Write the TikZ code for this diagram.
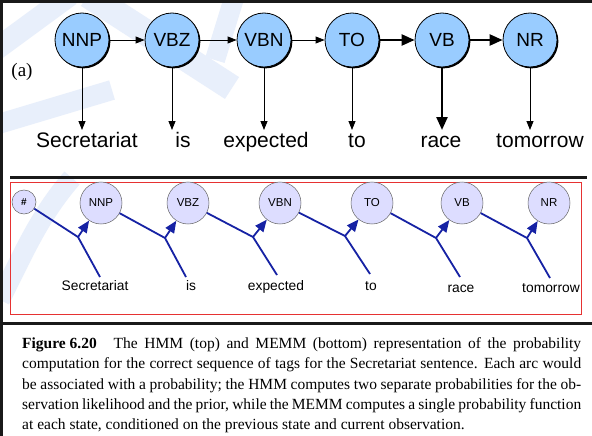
\documentclass[tikz,border=0pt]{standalone}
\usepackage{fontspec}
\setmainfont{Liberation Serif}
\setsansfont{Liberation Sans}
\usetikzlibrary{arrows.meta,shadows}
\definecolor{hmmfill}{RGB}{153,204,255}
\definecolor{memmfill}{RGB}{221,221,255}
\definecolor{memmline}{RGB}{22,34,164}
\definecolor{framered}{RGB}{230,50,50}
\definecolor{wmark}{RGB}{232,239,251}
\tikzset{
  hmmstate/.style={circle, draw=black, line width=0.8pt, fill=hmmfill, minimum size=54pt, inner sep=0pt,
    font=\sffamily\fontsize{19}{19}\selectfont,
    drop shadow={shadow xshift=1.4pt, shadow yshift=-1.4pt, opacity=1, fill=black}},
  hmmword/.style={font=\sffamily\fontsize{21}{21}\selectfont, inner sep=0pt, anchor=base},
  thinarrow/.style={line width=0.8pt, -{Triangle[length=9pt,width=7pt]}},
  thickarrow/.style={line width=2.4pt, -{Triangle[length=13pt,width=11pt]}},
  memmstate/.style={circle, draw=black!60, line width=0.5pt, fill=memmfill, minimum size=42pt, inner sep=0pt,
    font=\sffamily\fontsize{11.5}{11.5}\selectfont},
  memmword/.style={font=\sffamily\fontsize{13.8}{13.8}\selectfont, inner sep=0pt, anchor=base},
  memmedge/.style={draw=memmline, line width=1.8pt},
  memmarrow/.style={memmedge, -{Triangle[length=12pt,width=10pt]}},
  capline/.style={anchor=base west, inner sep=0pt, font=\fontsize{15.5}{15.5}\selectfont},
  wm/.style={draw=wmark, line width=22pt},
}
\begin{document}
\begin{tikzpicture}[x=1pt,y=-1pt]
\useasboundingbox (0,0) rectangle (592,436);
\fill[white] (0,0) rectangle (592,436);
% faint watermark
\begin{scope}
\clip (0,0) rectangle (592,322);
\draw[wm] (70,-5) -- (-5,50);
\draw[wm, line width=26pt] (88,-5) -- (232,88);
\draw[wm, line width=20pt] (235,-5) -- (215,60);
\draw[wm, line width=20pt] (-5,125) -- (112,90);
\draw[wm, line width=20pt] (72,178) .. controls (40,215) and (25,250) .. (0,300);
\end{scope}
% frame
\fill[black!90] (0,0) rectangle (592,3);
\fill[black!90] (0,0) rectangle (3,436);
\fill[black!90] (10,176) rectangle (587,178.5);
\fill[black!90] (0,322) rectangle (592,325);
\draw[framered, line width=0.8pt] (10.5,182.5) rectangle (581,314);
% HMM
\node (a) [font=\fontsize{19}{19}\selectfont] at (22,72) {(a)};
\node[hmmstate] (h1) at (82,40) {NNP};
\node[hmmstate] (h2) at (172,40) {VBZ};
\node[hmmstate] (h3) at (264,40) {VBN};
\node[hmmstate] (h4) at (352,40) {TO};
\node[hmmstate] (h5) at (442,40) {VB};
\node[hmmstate] (h6) at (530,40) {NR};
\node[hmmword] (o1) at (87,147) {Secretariat};
\node[hmmword] (o2) at (183,147) {is};
\node[hmmword] (o3) at (266,147) {expected};
\node[hmmword] (o4) at (357,147) {to};
\node[hmmword] (o5) at (441,147) {race};
\node[hmmword] (o6) at (540,147) {tomorrow};
\coordinate (t1) at (82,130);
\coordinate (t2) at (172,130);
\coordinate (t3) at (264,130);
\coordinate (t4) at (352,130);
\coordinate (t5) at (442,130);
\coordinate (t6) at (530,130);
\draw[thinarrow] (h1) -- (h2);
\draw[thinarrow] (h2) -- (h3);
\draw[thinarrow] (h3) -- (h4);
\draw[thickarrow] (h4) -- (h5);
\draw[thickarrow] (h5) -- (h6);
\draw[thinarrow] (h1) -- (t1);
\draw[thinarrow] (h2) -- (t2);
\draw[thinarrow] (h3) -- (t3);
\draw[thinarrow] (h4) -- (t4);
\draw[thickarrow] (h5) -- (t5);
\draw[thinarrow] (h6) -- (t6);
% MEMM
\node[memmstate, minimum size=24pt, font=\sffamily\bfseries\fontsize{10}{10}\selectfont] (m0) at (24,202) {\#};
\node[memmstate] (m1) at (101,203) {NNP};
\node[memmstate] (m2) at (188,203) {VBZ};
\node[memmstate] (m3) at (280,203) {VBN};
\node[memmstate] (m4) at (372,203) {TO};
\node[memmstate] (m5) at (462,203) {VB};
\node[memmstate] (m6) at (549,203) {NR};
\node[memmword] (w1) at (95,290) {Secretariat};
\node[memmword] (w2) at (191,290) {is};
\node[memmword] (w3) at (276,290) {expected};
\node[memmword] (w4) at (371,290) {to};
\node[memmword] (w5) at (461,292) {race};
\node[memmword] (w6) at (551,292) {tomorrow};
\coordinate (j1) at (78,237);
\coordinate (j2) at (165,238);
\coordinate (j3) at (253,237);
\coordinate (j4) at (345,236);
\coordinate (j5) at (436,238);
\coordinate (j6) at (527,238);
\coordinate (e1) at (100,277);
\coordinate (e2) at (186,277);
\coordinate (e3) at (277,275);
\coordinate (e4) at (370,274);
\coordinate (e5) at (460,277);
\coordinate (e6) at (550,278);
\foreach \i/\p in {1/0,2/1,3/2,4/3,5/4,6/5}{
  \draw[memmedge] (m\p) -- (j\i);
  \draw[memmedge] (j\i) -- (e\i);
  \draw[memmarrow] (j\i) -- (m\i);
}
% caption
\node[capline] (c1) at (22,348) {\makebox[559pt][s]{\textbf{Figure\hbox to 3.8pt{}6.20}\hbox to 17pt{}The HMM (top) and MEMM (bottom) representation of the probability}};
\node[capline] (c2) at (22,368.5) {\makebox[559pt][s]{computation for the correct sequence of tags for the Secretariat sentence. Each arc would}};
\node[capline] (c3) at (22,389) {\makebox[559pt][s]{be associated with a probability; the HMM computes two separate probabilities for the ob-}};
\node[capline] (c4) at (22,409) {\makebox[559pt][s]{servation likelihood and the prior, while the MEMM computes a single probability function}};
\node[capline] (c5) at (22,429.5) {at each state, conditioned on the previous state and current observation.};
\end{tikzpicture}
\end{document}
